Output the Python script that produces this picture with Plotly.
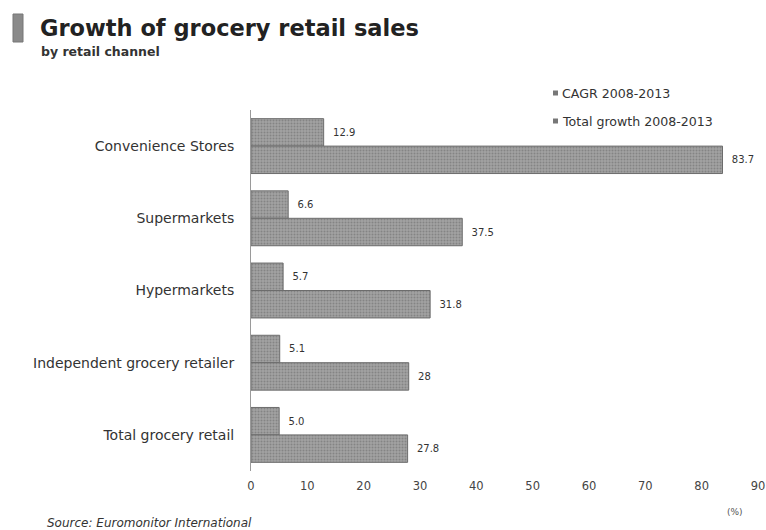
import plotly.graph_objects as go

categories = ["Convenience Stores", "Supermarkets", "Hypermarkets",
              "Independent grocery retailer", "Total grocery retail"]
cagr = [12.9, 6.6, 5.7, 5.1, 5.0]
total_growth = [83.7, 37.5, 31.8, 28, 27.8]
series_names = ["CAGR 2008-2013", "Total growth 2008-2013"]
x_ticks = [0, 10, 20, 30, 40, 50, 60, 70, 80, 90]

FIG_W, FIG_H = 766, 530
L, R, T, B = 251, 8, 110, 59
PW, PH = FIG_W - L - R, FIG_H - T - B


def px(x):
    return (x - L) / PW


def py(y):
    return (FIG_H - B - y) / PH


FONT = "DejaVu Sans, Arial, sans-serif"
TXT = "#333333"

bar_style = dict(
    color="#8f8f8f",
    line=dict(color="#6c6c6c", width=1),
    pattern=dict(shape=".", fgcolor="#666666", bgcolor="#a2a2a2",
                 size=3, solidity=0.35),
)

fig = go.Figure()
for name, vals in zip(series_names, [cagr, total_growth]):
    fig.add_trace(go.Bar(
        y=categories, x=vals, name=name, orientation="h",
        marker=bar_style,
        text=[str(v) for v in vals],
        texttemplate="\u00a0\u00a0%{text}",
        textposition="outside",
        constraintext="none",
        cliponaxis=False,
        textfont=dict(family=FONT, size=10, color=TXT),
        showlegend=False,
    ))

annotations = [
    dict(text="<b>Growth of grocery retail sales</b>", x=px(39), y=py(28),
         xanchor="left", yanchor="middle",
         font=dict(family=FONT, size=22.5, color="#222222")),
    dict(text="<b>by retail channel</b>", x=px(40), y=py(51),
         xanchor="left", yanchor="middle",
         font=dict(family=FONT, size=12.5, color="#333333")),
    dict(text=series_names[0], x=px(561), y=py(93),
         xanchor="left", yanchor="middle",
         font=dict(family=FONT, size=12.6, color=TXT)),
    dict(text=series_names[1], x=px(561), y=py(121),
         xanchor="left", yanchor="middle",
         font=dict(family=FONT, size=12.6, color=TXT)),
    dict(text="<i>Source: Euromonitor International</i>", x=px(46), y=py(523),
         xanchor="left", yanchor="middle",
         font=dict(family=FONT, size=12, color="#333333")),
    dict(text="(%)", x=px(735), y=py(512),
         xanchor="center", yanchor="middle",
         font=dict(family=FONT, size=9, color="#555555")),
]
for a in annotations:
    a.update(xref="paper", yref="paper", showarrow=False, borderpad=0)

shapes = [
    dict(type="rect", x0=px(13), x1=px(23), y0=py(42), y1=py(14),
         fillcolor="#8a8a8a", line=dict(color="#777777", width=1)),
    dict(type="rect", x0=px(553), x1=px(558), y0=py(95.5), y1=py(90.5),
         fillcolor="#777777", line=dict(width=0)),
    dict(type="rect", x0=px(553), x1=px(558), y0=py(123.5), y1=py(118.5),
         fillcolor="#777777", line=dict(width=0)),
]
for s in shapes:
    s.update(xref="paper", yref="paper")

fig.update_layout(
    width=FIG_W, height=FIG_H,
    margin=dict(l=L, r=R, t=T, b=B, pad=0, autoexpand=False),
    paper_bgcolor="white", plot_bgcolor="white",
    barmode="group", bargap=0.24, bargroupgap=0,
    annotations=annotations, shapes=shapes,
    xaxis=dict(range=[0, 90], tickvals=x_ticks, showgrid=False,
               zeroline=False, showline=False, ticks="",
               automargin=False, ticklabelstandoff=6,
               tickfont=dict(family=FONT, size=11.5, color="#444444")),
    yaxis=dict(autorange="reversed", showgrid=False, zeroline=False,
               showline=True, linecolor="#9a9a9a", linewidth=1,
               automargin=False, ticks="", ticklabelstandoff=13,
               tickfont=dict(family=FONT, size=14, color=TXT)),
)

fig.write_html("out.html")
